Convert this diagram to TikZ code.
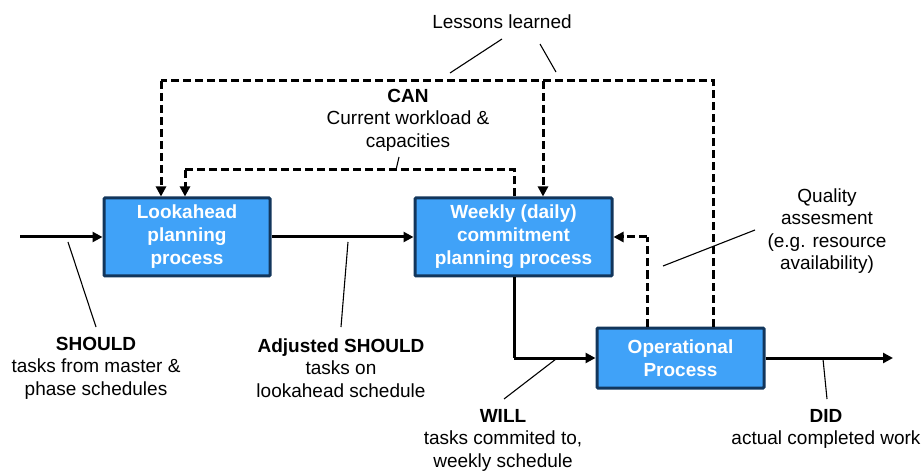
\documentclass[tikz,border=0pt]{standalone}
\usepackage{fontspec}
\setmainfont{Liberation Sans}
\usetikzlibrary{arrows.meta}
\definecolor{boxfill}{RGB}{64,162,248}
\definecolor{boxline}{RGB}{18,54,92}
\begin{document}
\begin{tikzpicture}[x=1pt,y=-1pt,
  procbox/.style={draw=boxline,fill=boxfill,line width=3pt,rounded corners=1pt,
    text=white,font=\fontsize{19}{23}\selectfont\bfseries,align=center,
    inner sep=0pt,anchor=center},
  lbl/.style={font=\fontsize{19}{22.5}\selectfont,align=center,inner sep=0pt},
  flow/.style={line width=3pt,-{Triangle[length=10pt,width=10pt]}},
  fb/.style={line width=3pt,dash pattern=on 8pt off 4pt,-{Triangle[length=10pt,width=10pt]}},
  fbplain/.style={line width=3pt,dash pattern=on 8pt off 4pt},
  thin/.style={line width=1.1pt}]
\useasboundingbox (0,0) rectangle (924,473);

\node[procbox,minimum width=166pt,minimum height=78pt] (look) at (187,237) {Lookahead\\planning\\process};
\node[procbox,minimum width=197pt,minimum height=78pt] (week) at (513.5,237) {Weekly (daily)\\commitment\\planning process};
\node[procbox,minimum width=167pt,minimum height=60pt] (oper) at (680.5,358) {Operational\\Process};

\coordinate (in) at (20,237);
\coordinate (out) at (893,358);
\coordinate (xa) at (161,0);
\coordinate (xb) at (185,0);
\coordinate (xc) at (514,0);
\coordinate (xd) at (543,0);
\coordinate (xe) at (647,0);
\coordinate (xf) at (713,0);
\coordinate (toploop) at (161,81);
\coordinate (topbranch) at (543,81);
\coordinate (innerloop) at (185,170);
\coordinate (qcorner) at (647,237);
\coordinate (wcorner) at (514,358);

% main flow
\draw[flow] (in) -- (look.west);
\draw[flow] (look.east) -- (week.west);
\draw[line width=3pt] (week.south -| xc) -- (wcorner);
\draw[flow] (wcorner) -- (oper.west);
\draw[flow] (oper.east) -- (out);

% feedback
\draw[fbplain] (oper.north -| xf) |- (toploop);
\draw[fb] (toploop) -- (look.north -| xa);
\draw[fb] (topbranch) -- (week.north -| xd);
\draw[fbplain] (week.north -| xc) |- (innerloop);
\draw[fb] (innerloop) -- (look.north -| xb);
\draw[fbplain] (oper.north -| xe) -- (qcorner);
\draw[fb] (qcorner) -- (week.east);

% labels
\node[lbl] (lessons) at (502,22) {Lessons learned};
\node[lbl] (can) at (408,120) {\textbf{CAN}\\Current workload \&\\capacities};
\node[lbl] (should) at (96,368) {\textbf{SHOULD}\\tasks from master \&\\phase schedules};
\node[lbl] (adj) at (341,368) {\textbf{Adjusted SHOULD}\\tasks on\\lookahead schedule};
\node[lbl] (will) at (503,440) {\textbf{WILL}\\tasks commited to,\\weekly schedule};
\node[lbl] (did) at (826,429) {\textbf{DID}\\actual completed work};
\node[lbl] (qual) at (827,231) {Quality\\assesment\\(e.g. resource\\availability)};

% pointer lines
\coordinate (p1a) at (68,242); \coordinate (p1b) at (96,327);
\coordinate (p2a) at (348,242); \coordinate (p2b) at (341,327);
\coordinate (p3a) at (556,359); \coordinate (p3b) at (504,399);
\coordinate (p4a) at (823,359); \coordinate (p4b) at (827,399);
\coordinate (p5a) at (663,266); \coordinate (p5b) at (755,230);
\coordinate (p6a) at (502,39); \coordinate (p6b) at (450,73);
\coordinate (p7a) at (540,44); \coordinate (p7b) at (556,72);
\coordinate (p8a) at (399,157); \coordinate (p8b) at (396,170);
\draw[thin] (p1a) -- (p1b);
\draw[thin] (p2a) -- (p2b);
\draw[thin] (p3a) -- (p3b);
\draw[thin] (p4a) -- (p4b);
\draw[thin] (p5a) -- (p5b);
\draw[thin] (p6a) -- (p6b);
\draw[thin] (p7a) -- (p7b);
\draw[thin] (p8a) -- (p8b);
\end{tikzpicture}
\end{document}
